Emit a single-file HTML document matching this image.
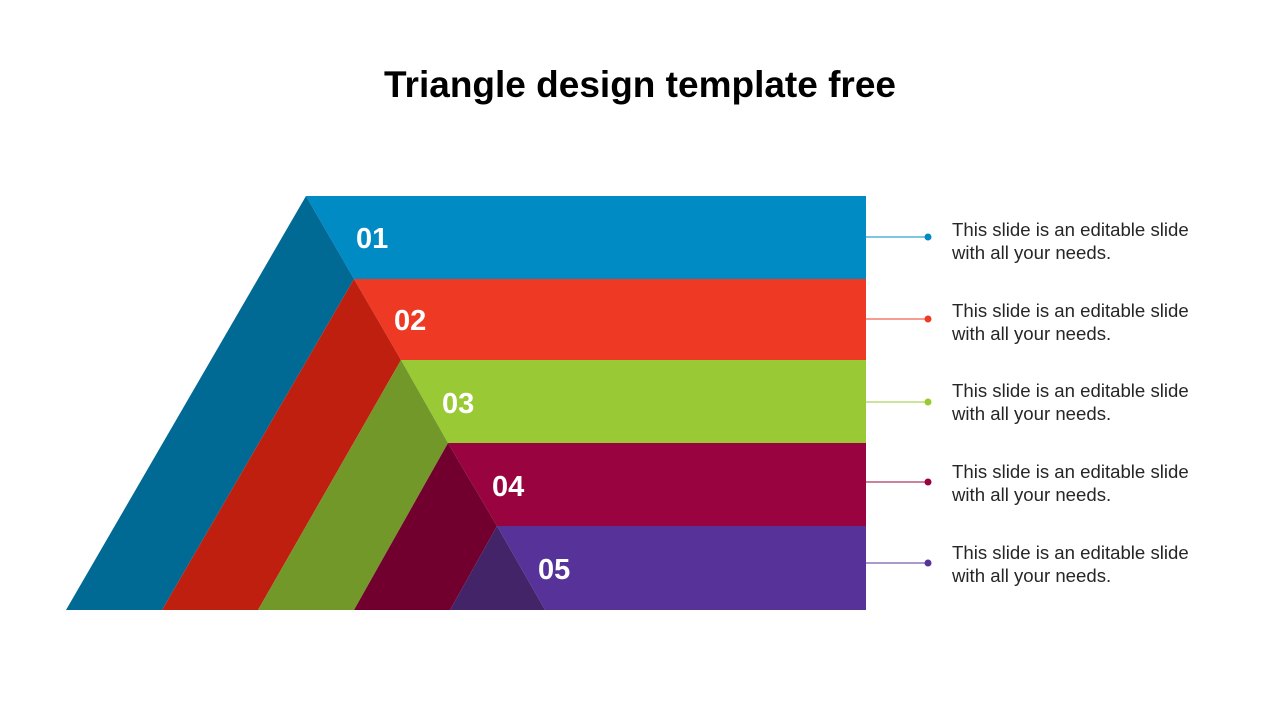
<!DOCTYPE html>
<html><head><meta charset="utf-8"><style>
body{margin:0;width:1280px;height:720px;background:#fff;overflow:hidden;font-family:"Liberation Sans",sans-serif}
</style></head><body>
<svg width="1280" height="720" xmlns="http://www.w3.org/2000/svg" style="position:absolute;left:0;top:0">
<text x="640" y="97" text-anchor="middle" font-family="Liberation Sans, sans-serif" font-weight="bold" font-size="37" fill="#000">Triangle design template free</text>
<polygon points="306,196 866,196 866,279 354,279" fill="#008BC5"/>
<polygon points="354,279 866,279 866,360 401,360" fill="#EE3A24"/>
<polygon points="401,360 866,360 866,443 448,443" fill="#99CA35"/>
<polygon points="448,443 866,443 866,526 497,526" fill="#99033F"/>
<polygon points="497,526 866,526 866,610 545,610" fill="#573399"/>
<polygon points="306,196 354,279 162,610 66,610" fill="#006994"/>
<polygon points="354,279 401,360 258,610 162,610" fill="#BF1F0F"/>
<polygon points="401,360 448,443 354,610 258,610" fill="#72982A"/>
<polygon points="448,443 497,526 450,610 354,610" fill="#72002F"/>
<polygon points="497,526 545,610 450,610" fill="#432468"/>
<g font-family="Liberation Sans, sans-serif" font-weight="bold" font-size="29" fill="#fff">
<text x="356" y="248">01</text>
<text x="394" y="330">02</text>
<text x="442" y="413">03</text>
<text x="492" y="496">04</text>
<text x="538" y="579">05</text>
</g>
<g stroke-width="1">
<line x1="866" y1="237" x2="928" y2="237" stroke="#008BC5"/><circle cx="928" cy="237" r="3.5" fill="#008BC5"/>
<line x1="866" y1="319" x2="928" y2="319" stroke="#EE3A24"/><circle cx="928" cy="319" r="3.5" fill="#EE3A24"/>
<line x1="866" y1="402" x2="928" y2="402" stroke="#99CA35"/><circle cx="928" cy="402" r="3.5" fill="#99CA35"/>
<line x1="866" y1="482" x2="928" y2="482" stroke="#99033F"/><circle cx="928" cy="482" r="3.5" fill="#99033F"/>
<line x1="866" y1="563" x2="928" y2="563" stroke="#573399"/><circle cx="928" cy="563" r="3.5" fill="#573399"/>
</g>
<g font-family="Liberation Sans, sans-serif" font-size="18.6" fill="#262626">
<text x="952" y="236">This slide is an editable slide</text><text x="952" y="259">with all your needs.</text>
<text x="952" y="317">This slide is an editable slide</text><text x="952" y="340">with all your needs.</text>
<text x="952" y="397">This slide is an editable slide</text><text x="952" y="420">with all your needs.</text>
<text x="952" y="478">This slide is an editable slide</text><text x="952" y="501">with all your needs.</text>
<text x="952" y="559">This slide is an editable slide</text><text x="952" y="582">with all your needs.</text>
</g>
</svg>
</body></html>
